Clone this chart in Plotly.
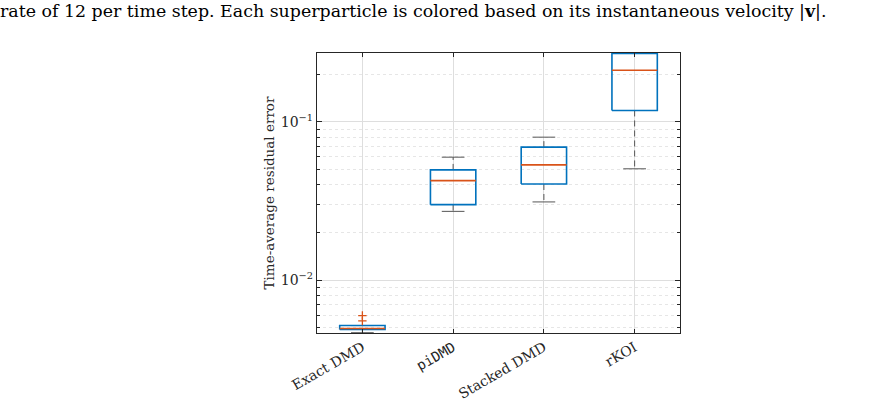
import plotly.graph_objects as go
import numpy as np

methods = ["Exact DMD", "piDMD", "Stacked DMD", "rKOI"]
q1 = [0.00488, 0.0300, 0.0405, 0.118]
median = [0.00495, 0.0425, 0.0535, 0.2115]
q3 = [0.00517, 0.0497, 0.0692, 0.270]
lower_whisker = [0.00466, 0.0272, 0.0312, 0.0505]
upper_whisker = [0.00517, 0.0598, 0.0800, 0.270]
outlier_method = [1, 1]
outlier_values = [0.00553, 0.00598]

y_min, y_max = 0.00464, 0.272
box_half = 0.25
cap_half = 0.125

BLUE = "#0072BD"
ORANGE = "#D95319"
GRAY = "#555555"
SERIF = "DejaVu Serif"

fig = go.Figure()

for i, m in enumerate(methods):
    xc = i + 1
    fig.add_trace(go.Scatter(x=[xc, xc, None, xc, xc],
                             y=[q3[i], upper_whisker[i], None, q1[i], lower_whisker[i]],
                             mode="lines", line=dict(color=GRAY, width=1, dash="6px,4px"),
                             showlegend=False, hoverinfo="skip"))
    fig.add_trace(go.Scatter(x=[xc - cap_half, xc + cap_half, None, xc - cap_half, xc + cap_half],
                             y=[upper_whisker[i], upper_whisker[i], None, lower_whisker[i], lower_whisker[i]],
                             mode="lines", line=dict(color=GRAY, width=1),
                             showlegend=False, hoverinfo="skip"))
    fig.add_trace(go.Scatter(x=[xc - box_half, xc + box_half, xc + box_half, xc - box_half, xc - box_half],
                             y=[q1[i], q1[i], q3[i], q3[i], q1[i]],
                             mode="lines", line=dict(color=BLUE, width=1.6),
                             showlegend=False, hoverinfo="skip"))
    fig.add_trace(go.Scatter(x=[xc - box_half, xc + box_half],
                             y=[median[i], median[i]],
                             mode="lines", line=dict(color=ORANGE, width=1.6),
                             showlegend=False, hoverinfo="skip"))

fig.add_trace(go.Scatter(x=outlier_method, y=outlier_values, mode="markers",
                         marker=dict(symbol="cross-thin", size=6, line=dict(color=ORANGE, width=1.3)),
                         showlegend=False, hoverinfo="skip"))

ticktext = ["Exact DMD", "<span style='font-family:DejaVu Sans Mono'>piDMD</span>", "Stacked DMD", "rKOI"]

fig.update_layout(
    width=892, height=401,
    margin=dict(l=317, r=212, t=53, b=68, autoexpand=False),
    paper_bgcolor="white", plot_bgcolor="white",
    font=dict(family=SERIF, color="#262626", size=13),
    title=dict(text="rate of 12 per time step. Each superparticle is colored based on its instantaneous velocity |<b>v</b>|.",
               xref="container", yref="container", x=0.0, xanchor="left",
               y=1 - 11 / 401, yanchor="middle",
               font=dict(family=SERIF, size=17.4, color="black")),
    xaxis=dict(range=[0.5, 4.5], tickvals=[1, 2, 3, 4], ticktext=ticktext,
               tickangle=-30, ticks="inside", ticklen=4, tickcolor="#262626",
               showline=True, linecolor="#262626", linewidth=1.3, mirror="ticks",
               showgrid=True, gridcolor="#dedede", gridwidth=1.3, zeroline=False,
               tickfont=dict(size=14), automargin=False),
    yaxis=dict(type="log", range=[np.log10(y_min), np.log10(y_max)],
               tickvals=[0.01, 0.1], ticktext=["10<sup>−2</sup>", "10<sup>−1</sup>"],
               ticks="inside", ticklen=5, tickcolor="#262626",
               showline=True, linecolor="#262626", linewidth=1.3, mirror="ticks",
               showgrid=True, gridcolor="#dedede", gridwidth=1.3, zeroline=False,
               tickfont=dict(size=14), automargin=False,
               title=dict(text="Time-average residual error", font=dict(size=13.5), standoff=3),
               minor=dict(tickvals=[v * d for d in [0.001, 0.01, 0.1] for v in range(2, 10)],
                          ticks="inside", ticklen=3, tickcolor="#262626",
                          showgrid=True, gridcolor="#e6e6e6", griddash="dot", gridwidth=1)),
)

fig.write_html("out.html")
